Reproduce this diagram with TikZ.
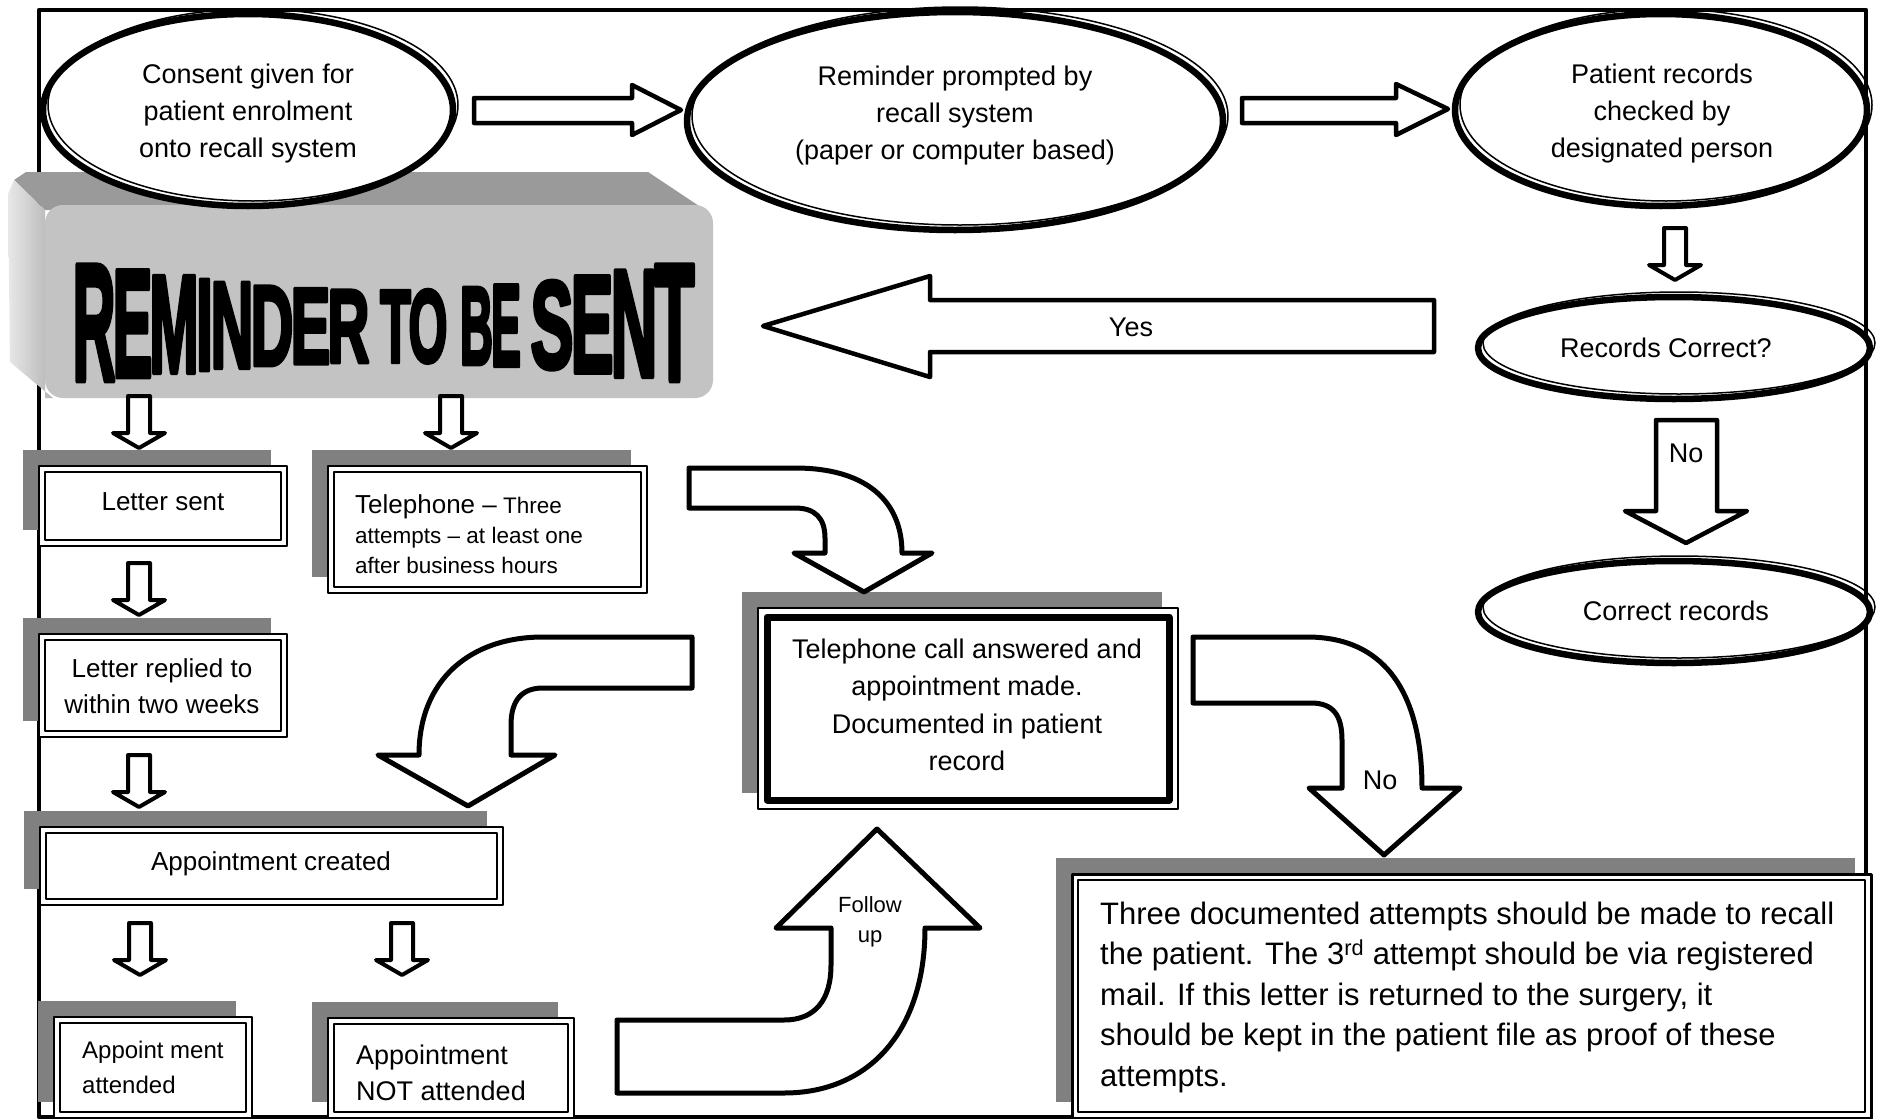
\documentclass[tikz,border=0pt]{standalone}
\usepackage{fontspec}
\setmainfont{Liberation Sans}
\newfontfamily\heavyfont{Liberation Sans}[BoldFeatures={FakeBold=4}]
\usepackage{graphicx}
\definecolor{shadowg}{HTML}{808080}
\definecolor{topface}{HTML}{9A9A9A}
\definecolor{frontface}{HTML}{C3C3C3}
\definecolor{sidelight}{HTML}{E8E8E8}
\definecolor{sidedark}{HTML}{B4B4B4}
% name, x1, y1, x2, y2, outer lw, inner lw, inset
\newcommand\shbox[8]{%
  \fill[shadowg] ({#2-16},{#3-16}) rectangle ({#4-16},{#5-16});
  \draw[fill=white, line width=#6] (#2,#3) rectangle (#4,#5);
  \draw[line width=#7] ({#2+#8},{#3+#8}) rectangle ({#4-#8},{#5-#8});
  \coordinate (#1) at ({(#2+#4)/2},{(#3+#5)/2});
}
% name, cx, cy, rx, ry
\newcommand\fancyoval[5]{%
  \fill[white] (#2,#3) ellipse [x radius=#4pt, y radius=#5pt];
  \draw[line width=1.5pt] ({#2+5},{#3-5}) ellipse [x radius=#4pt, y radius=#5pt];
  \draw[line width=6.5pt] (#2,#3) ellipse [x radius=#4pt, y radius=#5pt];
  \coordinate (#1) at (#2,#3);
}
\begin{document}
\begin{tikzpicture}[x=1pt,y=-1pt,line join=round,
  txt/.style={inner sep=0pt, font=\fontsize{27}{37}\selectfont, align=center},
  blk/.style={draw=black, fill=white, line width=4.5pt, line join=round},
  carrow/.style={draw=black, fill=white, line width=5pt, line join=round},
  downarr/.pic={\draw[line width=4pt, fill=white, line join=round]
     (-11,0) -- (11,0) -- (11,37) -- (26,37) -- (0,52) -- (-26,37) -- (-11,37) -- cycle;}]
\useasboundingbox (0,0) rectangle (1880,1119);
\fill[white] (0,0) rectangle (1880,1119);
% outer frame
\draw[line width=4.5pt] (39,10) rectangle (1866,1117);

% 3D grey banner
\fill[topface] (14,180) -- (26,172) -- (648,172) -- (705,210) -- (45,210) -- cycle;
\shade[left color=sidelight, right color=sidedark] (8,194) -- (14,180) -- (45,210) -- (45,398) -- (53,398) -- (10,362) -- cycle;
\fill[frontface, rounded corners=18pt] (45,205) rectangle (713,398);
\coordinate (banner) at (379,301);
\foreach \ch/\cx/\w/\cy/\h [count=\i] in {R/94/43/322.9/114.2, E/132.5/40/323.7/105, M/174/49.5/324.45/95.7, I/204.5/17/324.95/89.5, N/232/43/325.35/84.5, D/272/43/325.85/78.5, E/310.5/40/326.25/74.3, R/348.5/42/326.45/71.7, T/395.5/31/326.5/71, O/428/39/326.4/72.2, B/476.5/33/326.05/76.3, E/506/30/325.7/80.2, S/552/43/325.15/86.9, E/592/43/324.5/95, N/634/47/323.75/104.5, T/674.5/40/322.9/114.4}
  \node[inner sep=0pt, outer sep=0pt] (rl\i) at (\cx,\cy) {\resizebox{\w pt}{\h pt}{\heavyfont\bfseries\ch}};

% ellipses
\fancyoval{e1}{248}{110}{205}{96}
\fancyoval{e2}{955}{121}{268}{109}
\fancyoval{e3}{1661}{110}{206}{96}
\fancyoval{e4}{1674}{348}{196}{51}
\fancyoval{e5}{1674}{612}{196}{51}

% straight block arrows
\draw[blk] (474,98) -- (632,98) -- (632,85) -- (681,110) -- (632,135) -- (632,123) -- (474,123) -- cycle;
\draw[blk] (1242,98) -- (1396,98) -- (1396,84) -- (1448,109) -- (1396,135) -- (1396,123) -- (1242,123) -- cycle;
\draw[blk] (1434,300) -- (930,300) -- (930,276) -- (763,326) -- (930,377) -- (930,352) -- (1434,352) -- cycle;
\draw[blk] (1656,420) -- (1717,420) -- (1717,511) -- (1747,511) -- (1686,543) -- (1625,511) -- (1656,511) -- cycle;

% small down arrows
\pic at (139,396) {downarr};
\pic at (451,396) {downarr};
\pic at (139,563) {downarr};
\pic at (139,755) {downarr};
\pic at (140,923) {downarr};
\pic at (402,923) {downarr};
\pic at (1675,228) {downarr};

% boxes
\shbox{bls}{39}{466}{287}{546}{1.7pt}{2.7pt}{6}
\shbox{btel}{328}{466}{647}{593}{1.7pt}{2.7pt}{6}
\shbox{blr}{39}{634}{287}{737}{1.7pt}{2.7pt}{6}
\shbox{bac}{40}{827}{503}{905}{2pt}{2.7pt}{6}
\shbox{baa}{54}{1017}{252}{1118}{2.5pt}{2.7pt}{6}
\shbox{bna}{328}{1018}{574}{1118}{1.7pt}{2.7pt}{6}
\shbox{bta}{758}{608}{1178}{809}{1.7pt}{7pt}{9}
\shbox{btd}{1072}{874}{1871}{1118}{3pt}{2pt}{6}

% curved block arrows
\draw[carrow] (689,468) -- (795,468) .. controls (865,468) and (902,500) .. (902,553) -- (932,553) -- (864,592) -- (794,553) -- (825,553) -- (825,538) .. controls (825,518) and (815,508) .. (795,508) -- (689,508) -- cycle;
\draw[carrow] (692,637) -- (543,637) .. controls (470,637) and (419,680) .. (419,755) -- (378,755) -- (468,806) -- (555,755) -- (511,755) -- (511,725) .. controls (511,700) and (522,688) .. (543,688) -- (692,688) -- cycle;
\draw[carrow] (1193,637) -- (1307,637) .. controls (1390,637) and (1422,700) .. (1422,788) -- (1460,788) -- (1384,855) -- (1309,788) -- (1342,788) -- (1342,740) .. controls (1342,715) and (1333,703) .. (1311,703) -- (1193,703) -- cycle;
\draw[carrow] (617,1020) -- (784,1020) .. controls (815,1020) and (831,1000) .. (831,965) -- (831,928) -- (776,928) -- (877,829) -- (980,928) -- (925,928) .. controls (925,1030) and (870,1093) .. (784,1093) -- (617,1093) -- cycle;

% texts
\node[txt] (t1) at (248,113.5) {Consent given for\\patient enrolment\\onto recall system};
\node[txt] (t2) at (955,115.5) {Reminder prompted by\\recall system\\(paper or computer based)};
\node[txt] (t3) at (1662,113.5) {Patient records\\checked by\\designated person};
\node[txt] (t4) at (1666,348) {Records Correct?};
\node[txt] (t5) at (1676,611) {Correct records};
\node[txt] (yes) at (1131,327) {Yes};
\node[txt] (no1) at (1686,453) {No};
\node[txt] (no2) at (1380,780) {No};
\node[txt, font=\fontsize{26}{36}\selectfont] (tls) at (163,502) {Letter sent};
\node[txt, anchor=west, align=left, font=\fontsize{22.5}{30}\selectfont] (ttel) at (355,534) {{\fontsize{26}{30}\selectfont Telephone –} Three\\attempts – at least one\\after business hours};
\node[txt, font=\fontsize{26}{36}\selectfont] (tlr) at (162,686) {Letter replied to\\within two weeks};
\node[txt, font=\fontsize{26}{36}\selectfont] (tac) at (271,864) {Appointment created};
\node[txt, anchor=west, align=left, font=\fontsize{24}{35}\selectfont] (taa) at (82,1067) {Appoint ment\\attended};
\node[txt, anchor=west, align=left, font=\fontsize{27}{36}\selectfont] (tna) at (356,1073) {Appointment\\NOT attended};
\node[txt, font=\fontsize{27}{37.5}\selectfont] (tta) at (967,705) {Telephone call answered and\\appointment made.\\Documented in patient\\record};
\node[txt, font=\fontsize{22}{30}\selectfont] (tfu) at (870,922) {Follow\\up};
\node[txt, anchor=west, align=left, font=\fontsize{31}{40.5}\selectfont] (ttd) at (1100,997) {Three documented attempts should be made to recall\\the patient. The 3\textsuperscript{rd} attempt should be via registered\\mail. If this letter is returned to the surgery, it\\should be kept in the patient file as proof of these\\attempts.};
\end{tikzpicture}
\end{document}
